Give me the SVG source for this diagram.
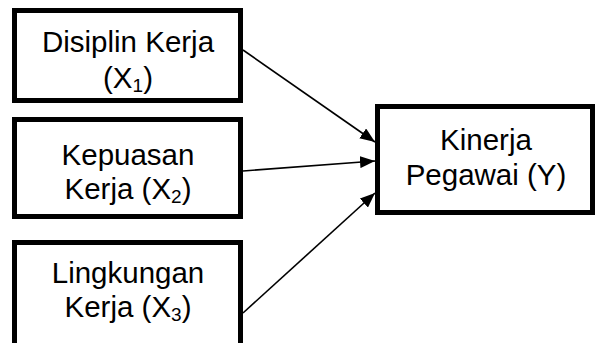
<svg xmlns="http://www.w3.org/2000/svg" width="596" height="343" viewBox="0 0 596 343">
<defs>
<style>
.box{fill:#fff;stroke:#000;stroke-width:5}
.t{font-family:"Liberation Sans",Arial,sans-serif;font-size:29.5px;fill:#000;text-anchor:middle}
.sub{font-size:19px}
.c{stroke:#000;stroke-width:1.6;fill:none}
</style>
<marker id="ah" markerUnits="userSpaceOnUse" markerWidth="16" markerHeight="12" refX="15" refY="6" orient="auto">
<path d="M0,0 L15,6 L0,12 Z" fill="#000"/>
</marker>
</defs>
<rect width="596" height="343" fill="#fff"/>
<g id="connectors">
<line class="c" x1="243" y1="50" x2="375" y2="142" marker-end="url(#ah)"/>
<line class="c" x1="243" y1="171" x2="375" y2="161" marker-end="url(#ah)"/>
<line class="c" x1="243" y1="313" x2="375" y2="193" marker-end="url(#ah)"/>
</g>
<g id="x1">
<rect class="box" x="14.5" y="10.5" width="226" height="90"/>
<text class="t" x="128" y="52">Disiplin Kerja</text>
<text class="t" x="128" y="88">(X<tspan class="sub" dy="4">1</tspan><tspan dy="-4">)</tspan></text>
</g>
<g id="x2">
<rect class="box" x="14.5" y="119.5" width="226" height="97"/>
<text class="t" x="128" y="165">Kepuasan</text>
<text class="t" x="128" y="199">Kerja (X<tspan class="sub" dy="4">2</tspan><tspan dy="-4">)</tspan></text>
</g>
<g id="x3">
<rect class="box" x="14.5" y="242.5" width="226" height="115"/>
<text class="t" x="128" y="283">Lingkungan</text>
<text class="t" x="128" y="317">Kerja (X<tspan class="sub" dy="4">3</tspan><tspan dy="-4">)</tspan></text>
</g>
<g id="y">
<rect class="box" x="377.5" y="106.5" width="215" height="106"/>
<text class="t" x="486" y="150">Kinerja</text>
<text class="t" x="486" y="185">Pegawai (Y)</text>
</g>
</svg>
